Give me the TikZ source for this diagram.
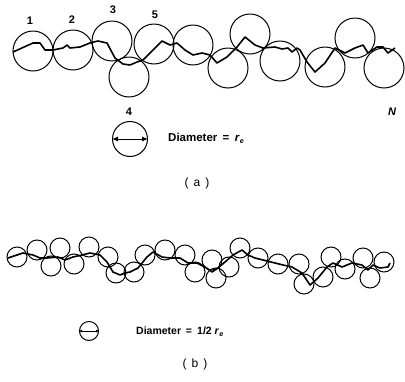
\documentclass[tikz,border=0pt]{standalone}
\usepackage{fontspec}
\setmainfont{Liberation Sans}
\usetikzlibrary{arrows.meta}
\begin{document}
\begin{tikzpicture}[x=1pt,y=-1pt,
  beadA/.style={draw, circle, line width=1pt, minimum size=40pt, inner sep=0pt},
  beadB/.style={draw, circle, line width=1pt, minimum size=20pt, inner sep=0pt},
  chain/.style={line width=1.6pt, line join=round},
  lbl/.style={font=\fontsize{11}{12}\selectfont\bfseries, inner sep=0pt},
  txt/.style={font=\fontsize{11.5}{12}\selectfont\bfseries, anchor=west, inner sep=0pt},
  captext/.style={font=\fontsize{12}{12}\selectfont, inner sep=0pt}]
\useasboundingbox (0,0) rectangle (405,381);
% ---------- (a) ----------
\foreach \n/\x/\y in {1/33/51, 2/73/50, 3/112/41, 4/129/77, 5/154/44, 6/193/45,
  7/228/68, 8/250/34, 9/280/61, 10/325/67, 11/355/38, 12/384/68}
  \node[beadA] (a\n) at (\x,\y) {};
\draw[chain] plot coordinates {(13,52) (33,43) (40,43) (45,50) (53,50) (63,48) (67,45) (70,48) (80,47) (90,43) (98,41) (107,43) (115,58) (123,64) (130,65) (137,62) (143,60) (153,50) (162,41) (170,45) (177,43) (185,50) (193,55) (202,53) (210,55) (217,63) (227,57) (237,47) (245,37) (255,45) (263,48) (275,47) (282,49) (288,48) (292,52) (297,48) (300,50) (307,62) (315,72) (325,63) (335,48) (345,53) (355,48) (363,45) (368,53) (377,47) (383,47) (388,53) (395,48)};
\node[lbl] (l1) at (30,21) {1};
\node[lbl] (l2) at (72,20) {2};
\node[lbl] (l3) at (113,10) {3};
\node[lbl] (l5) at (155,15) {5};
\node[lbl] (l4) at (129,112) {4};
\node[lbl, font=\fontsize{11}{12}\selectfont\bfseries\itshape] (lN) at (392,112) {N};
% legend a
\node[draw, circle, line width=1pt, minimum size=35pt, inner sep=0pt] (la) at (130,139) {};
\draw[line width=1pt, {Latex[length=6pt,width=5pt]}-{Latex[length=6pt,width=5pt]}] (la.west) -- (la.east);
\node[txt] (ta) at (168,138) {Diameter \,=\enspace \textit{r}\raisebox{-2pt}{\scriptsize\textit{e}}};
\node[captext] (ca) at (197,183) {(\hspace{5pt}a\hspace{5pt})};
% ---------- (b) ----------
\foreach \n/\x/\y in {1/17/257, 2/37/250, 3/51/266, 4/60/248, 5/74/264, 6/89/247,
  7/108/257, 8/116/273, 9/134/272, 10/145/255, 11/165/250, 12/185/255, 13/195/272,
  14/212/260, 15/216/278, 16/229/267, 17/240/248, 18/258/258, 19/278/264, 20/299/264,
  21/304/284, 22/323/277, 23/331/257, 24/345/269, 25/363/258, 26/370/278, 27/384/262}
  \node[beadB] (b\n) at (\x,\y) {};
\draw[chain] plot coordinates {(8,258) (23,253) (33,255) (40,258) (47,258) (58,257) (65,260) (73,257) (82,255) (90,253) (100,255) (107,262) (113,272) (120,275) (125,273) (130,272) (138,268) (147,257) (153,252) (162,257) (170,258) (180,258) (188,263) (197,263) (205,267) (212,272) (218,268) (225,262) (233,255) (242,250) (248,255) (255,258) (263,260) (275,263) (283,265) (292,267) (302,273) (310,285) (318,278) (327,267) (333,263) (342,267) (352,263) (362,265) (368,270) (373,265) (380,268) (388,267) (390,263)};
% legend b
\node[draw, circle, line width=1pt, minimum size=19pt, inner sep=0pt] (lb) at (89,331) {};
\draw[line width=1pt, {Latex[length=3pt,width=3pt]}-{Latex[length=3pt,width=3pt]}] (lb.west) -- (lb.east);
\node[txt, font=\fontsize{10.5}{12}\selectfont\bfseries] (tb) at (136,332) {Diameter \,=\enspace 1/2 \textit{r}\raisebox{-2pt}{\scriptsize\textit{e}}};
\node[captext] (cb) at (195,364) {(\hspace{5pt}b\hspace{5pt})};
\end{tikzpicture}
\end{document}
